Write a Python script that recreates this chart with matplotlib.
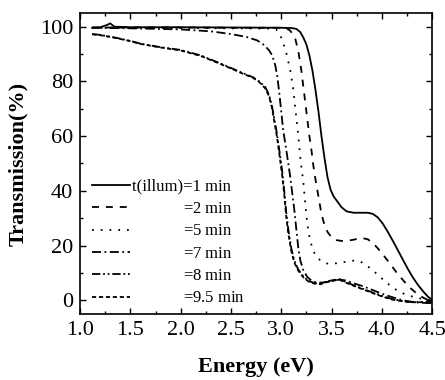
import numpy as np
import matplotlib
matplotlib.use('Agg')
import matplotlib.pyplot as plt

plt.rcParams['font.family'] = 'Liberation Serif'
plt.rcParams['mathtext.fontset'] = 'custom'
plt.rcParams['mathtext.rm'] = 'Liberation Serif'
plt.rcParams['mathtext.it'] = 'Liberation Serif'
plt.rcParams['lines.scale_dashes'] = False

# DATA
x1 = [1.12, 1.2, 1.26, 1.30, 1.34, 1.5, 2.0, 2.5, 3.0, 3.10, 3.15, 3.19, 3.22, 3.25, 3.28,
      3.31, 3.34, 3.37, 3.40, 3.43, 3.46, 3.49, 3.52, 3.56, 3.60, 3.65, 3.72, 3.80, 3.86,
      3.91, 3.96, 4.01, 4.06, 4.11, 4.16, 4.21, 4.26, 4.31, 4.36, 4.41, 4.46, 4.5]
y1 = [99.6, 99.8, 100.5, 101.2, 100.0, 99.8, 99.8, 99.7, 99.6, 99.5, 99.2, 98.0, 96.0, 93.5, 89.5,
      84.0, 77.0, 69.0, 60.0, 52.0, 45.0, 40.5, 38.0, 36.0, 34.0, 32.5, 32.0, 32.0, 32.0,
      31.6, 30.3, 28.0, 25.0, 21.7, 18.3, 14.8, 11.4, 8.3, 5.6, 3.3, 1.3, 0.2]

x2 = [1.12, 1.5, 2.0, 2.5, 3.0, 3.05, 3.09, 3.12, 3.14, 3.17, 3.20, 3.22, 3.25, 3.28, 3.30,
      3.32, 3.35, 3.37, 3.40, 3.43, 3.46, 3.50, 3.55, 3.60, 3.70, 3.80, 3.86, 3.91, 3.96,
      4.02, 4.08, 4.14, 4.21, 4.28, 4.35, 4.42, 4.48, 4.5]
y2 = [99.7, 99.7, 99.7, 99.6, 99.6, 99.5, 98.5, 97.0, 95.5, 91.0, 84.0, 78.0, 69.0, 60.0, 55.0,
      49.0, 42.0, 38.0, 31.5, 27.5, 25.0, 23.0, 22.0, 21.7, 22.0, 22.8, 22.3, 21.0, 19.0,
      16.3, 13.5, 10.5, 7.4, 4.6, 2.4, 0.8, -0.2, -0.4]

x5 = [1.12, 1.5, 2.0, 2.5, 2.9, 2.95, 2.98, 3.00, 3.02, 3.05, 3.09, 3.12, 3.14, 3.17, 3.19,
      3.22, 3.25, 3.27, 3.29, 3.32, 3.35, 3.40, 3.45, 3.50, 3.60, 3.70, 3.78, 3.84, 3.90,
      3.96, 4.02, 4.08, 4.14, 4.22, 4.30, 4.38, 4.45, 4.5]
y5 = [99.6, 99.6, 99.5, 99.4, 99.3, 99.0, 97.5, 96.0, 94.0, 90.5, 84.0, 77.0, 70.0, 60.0, 52.0,
      43.0, 31.0, 25.0, 21.5, 18.0, 15.8, 14.3, 13.5, 13.3, 13.8, 14.5, 14.3, 13.0, 11.3,
      9.3, 7.3, 5.5, 3.9, 2.4, 1.4, 0.7, 0.2, 0.0]

x7 = [1.12, 1.5, 2.0, 2.3, 2.5, 2.65, 2.76, 2.83, 2.88, 2.91, 2.94, 2.96, 2.98, 3.00, 3.02,
      3.05, 3.07, 3.09, 3.11, 3.13, 3.15, 3.17, 3.19, 3.22, 3.26, 3.30, 3.35, 3.42, 3.50,
      3.58, 3.65, 3.72, 3.80, 3.88, 3.96, 4.05, 4.15, 4.25, 4.35, 4.45, 4.5]
y7 = [99.6, 99.4, 99.0, 98.3, 97.3, 96.3, 95.0, 93.3, 91.3, 89.5, 86.0, 82.0, 76.0, 69.0, 62.0,
      55.0, 50.0, 45.0, 39.0, 33.0, 26.0, 19.0, 14.5, 11.0, 8.5, 7.2, 6.5, 6.5, 7.0,
      7.6, 7.2, 6.2, 5.3, 4.2, 3.0, 1.8, 0.6, -0.3, -0.8, -1.0, -1.0]

x8 = [1.12, 1.2, 1.35, 1.5, 1.6, 1.8, 2.0, 2.2, 2.4, 2.52, 2.62, 2.72, 2.78, 2.84, 2.88,
      2.91, 2.93, 2.95, 2.97, 2.99, 3.01, 3.03, 3.05, 3.07, 3.10, 3.13, 3.17, 3.22, 3.27,
      3.33, 3.39, 3.45, 3.52, 3.58, 3.64, 3.72, 3.82, 3.92, 4.01, 4.10, 4.21, 4.30, 4.41, 4.5]
y8 = [97.3, 97.0, 96.0, 94.8, 93.8, 92.5, 91.5, 89.5, 86.5, 84.6, 83.0, 81.5, 80.0, 78.0, 75.0,
      70.5, 66.5, 62.5, 57.5, 52.5, 47.0, 40.0, 32.0, 26.0, 19.0, 14.5, 11.2, 8.7, 7.1,
      6.3, 6.1, 6.9, 7.4, 7.7, 6.7, 5.5, 4.1, 2.7, 1.5, 0.5, -0.3, -0.6, -0.6, -0.6]

x95 = [1.12, 1.2, 1.35, 1.5, 1.6, 1.8, 2.0, 2.2, 2.4, 2.52, 2.62, 2.72, 2.78, 2.84, 2.88,
       2.91, 2.93, 2.95, 2.97, 2.99, 3.01, 3.03, 3.05, 3.07, 3.10, 3.13, 3.17, 3.22, 3.27,
       3.33, 3.39, 3.45, 3.52, 3.58, 3.64, 3.72, 3.82, 3.92, 4.01, 4.10, 4.21, 4.30, 4.41, 4.5]
y95 = [97.2, 96.9, 95.9, 94.7, 93.7, 92.4, 91.3, 89.3, 86.3, 84.4, 82.8, 81.3, 79.8, 77.5, 74.5,
       70.0, 65.5, 61.5, 56.5, 51.0, 45.5, 38.5, 30.5, 24.5, 18.0, 13.8, 10.8, 8.4, 6.9,
       6.1, 5.9, 6.6, 7.2, 7.5, 6.5, 5.3, 3.9, 2.5, 1.3, 0.3, -0.4, -0.7, -0.7, -0.7]

labels = ['t(illum)=1 min', '=2 min', '=5 min', '=7 min', '=8 min', '=9.5 min']
pad = r'$\hspace{3.95}$'   # width of "t(illum)" so the "=" signs line up

# PLOTTING
fig = plt.figure(figsize=(4.45, 3.8), dpi=100)
ax = fig.add_axes([0.180, 0.1737, 0.791, 0.7921])

lw = 1.3
ax.plot(x1, y1, color='k', lw=lw, ls='-', label=labels[0])
ax.plot(x2, y2, color='k', lw=lw, ls=(0, (5, 5)), label=pad + labels[1])
ax.plot(x5, y5, color='k', lw=lw, ls=(0, (1.3, 5)), label=pad + labels[2])
ax.plot(x7, y7, color='k', lw=lw, ls=(0, (6.5, 2.5, 1.3, 2.5)), label=pad + labels[3])
ax.plot(x8, y8, color='k', lw=lw, ls=(0, (6, 2, 1.3, 2, 1.3, 2)), label=pad + labels[4])
ax.plot(x95, y95, color='k', lw=lw, ls=(0, (3, 2)), label=pad + labels[5])

ax.set_xlim(1.0, 4.5)
ax.set_ylim(-5, 105)
ax.set_xticks(np.arange(1.0, 4.51, 0.5))
ax.set_xticks(np.arange(1.0, 4.51, 0.25), minor=True)
ax.set_yticks(np.arange(0, 101, 20))
ax.set_yticks(np.arange(0, 101, 10), minor=True)
ax.xaxis.set_major_formatter(matplotlib.ticker.FormatStrFormatter('%.1f'))
ax.tick_params(which='both', direction='in', top=True, right=True, width=1.0, labelsize=16)
ax.tick_params(which='major', length=4.5, pad=5)
ax.tick_params(which='minor', length=2.5)
for s in ax.spines.values():
    s.set_linewidth(1.2)

ax.set_xlabel('Energy (eV)', fontsize=16, fontweight='bold', labelpad=12)
ax.set_ylabel('Transmission(%)', fontsize=16, fontweight='bold', labelpad=8)

ax.legend(loc='lower left', bbox_to_anchor=(0.033, 0.025), frameon=False, fontsize=12,
          borderpad=0, borderaxespad=0, handlelength=2.3, handletextpad=0.1,
          labelspacing=0.38)

plt.savefig('out.png', dpi=100)
